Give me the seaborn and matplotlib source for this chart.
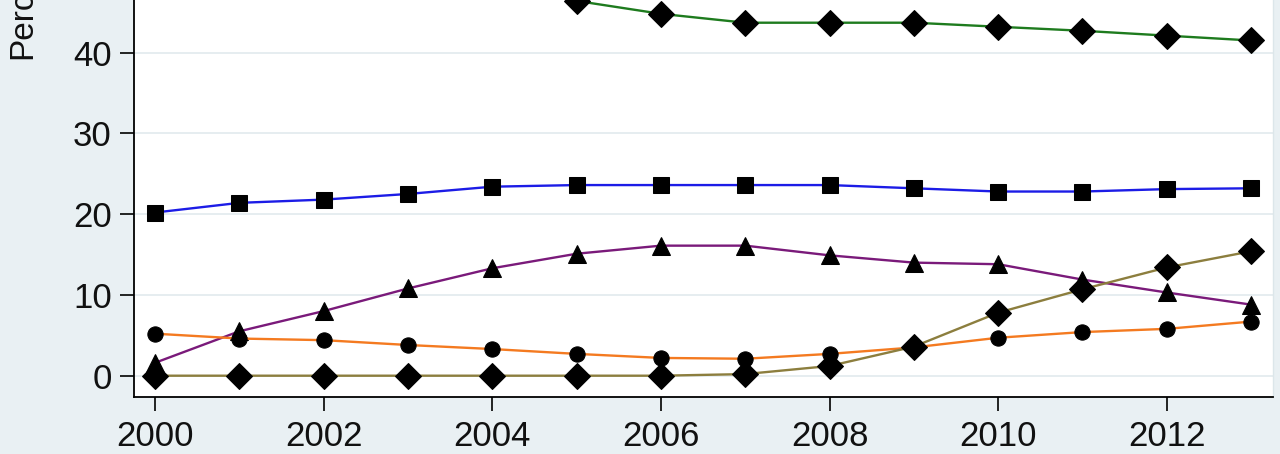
"""Share of five series over time, Stata-style connected lines."""

import matplotlib
matplotlib.use("Agg")
import matplotlib.pyplot as plt
import numpy as np
import pandas as pd
import seaborn as sns

# ── Data ────────────────────────────────────────────────────────────────────
years = list(range(2000, 2014))

green = [58.0, 56.5, 54.5, 52.5, 49.5, 46.4, 44.8, 43.7, 43.7, 43.7, 43.2, 42.7, 42.1, 41.5]
blue = [20.2, 21.4, 21.8, 22.5, 23.4, 23.6, 23.6, 23.6, 23.6, 23.2, 22.8, 22.8, 23.1, 23.2]
purple = [1.6, 5.5, 8.0, 10.8, 13.3, 15.1, 16.1, 16.1, 14.9, 14.0, 13.8, 11.9, 10.3, 8.8]
orange = [5.2, 4.6, 4.4, 3.8, 3.3, 2.7, 2.2, 2.1, 2.7, 3.5, 4.7, 5.4, 5.8, 6.7]
olive = [0.0, 0.0, 0.0, 0.0, 0.0, 0.0, 0.0, 0.2, 1.2, 3.6, 7.8, 10.7, 13.4, 15.4]

series_names = ["green", "blue", "purple", "orange", "olive"]
series_values = [green, blue, purple, orange, olive]

y_ticks = [0, 10, 20, 30, 40]
x_ticks = list(range(2000, 2013, 2))

# ── Style ───────────────────────────────────────────────────────────────────
BG = "#E9F0F3"
COLORS = {
    "green": "#1E7B1E",
    "blue": "#1C1CE6",
    "purple": "#7A1A7A",
    "orange": "#F47A20",
    "olive": "#8C7E3E",
}
MARKERS = {"green": "D", "blue": "s", "purple": "^", "orange": "o", "olive": "D"}
SIZES = {"green": 13, "blue": 12, "purple": 13, "orange": 11, "olive": 13}

sns.set_theme(style="white")
plt.rcParams["font.family"] = ["Liberation Sans", "DejaVu Sans"]

df = pd.DataFrame(
    [
        {"year": y, "value": v, "series": name}
        for name, vals in zip(series_names, series_values)
        for y, v in zip(years, vals)
    ]
)

fig = plt.figure(figsize=(12.8, 4.54), dpi=100, facecolor=BG)
# axes runs past the top edge of the figure, as in the cropped reference
ax_h = 1.95
ax = fig.add_axes([134 / 1280, 57.3 / 454, (1273 - 134) / 1280, ax_h])
ax.set_facecolor("white")

for name in series_names:
    sub = df[df["series"] == name]
    sns.lineplot(
        data=sub,
        x="year",
        y="value",
        color=COLORS[name],
        marker=MARKERS[name],
        markersize=SIZES[name],
        markerfacecolor="black",
        markeredgecolor="black",
        linewidth=1.7,
        ax=ax,
        legend=False,
    )

ax.set_xlim(1999.75, 2013.26)
ax.set_ylim(-2.6, 107)
ax.set_yticks(y_ticks)
ax.set_xticks(x_ticks)
ax.yaxis.grid(True, color="#E4ECEF", linewidth=1.3)
ax.set_axisbelow(True)

ax.tick_params(axis="both", direction="out", length=10, width=1.2, color="black",
               labelcolor="#111111", left=True, bottom=True)
ax.tick_params(axis="y", labelsize=25, pad=6)
ax.tick_params(axis="x", labelsize=25, pad=7)
ax.set_xlabel("")
ax.set_ylabel("Percent", fontsize=24, color="#111111")
# label sits low on the (cropped) axis, as in the reference
ax_px_h = ax_h * 454
ax.yaxis.set_label_coords((38 - 134) / 1139, (396.7 - 2) / ax_px_h)

for side in ["left", "bottom"]:
    ax.spines[side].set_color("black")
    ax.spines[side].set_linewidth(1.3)
for side in ["right", "top"]:
    ax.spines[side].set_color("#DCE6EA")
    ax.spines[side].set_linewidth(1.0)

fig.savefig("out.png", dpi=100, facecolor=BG)
